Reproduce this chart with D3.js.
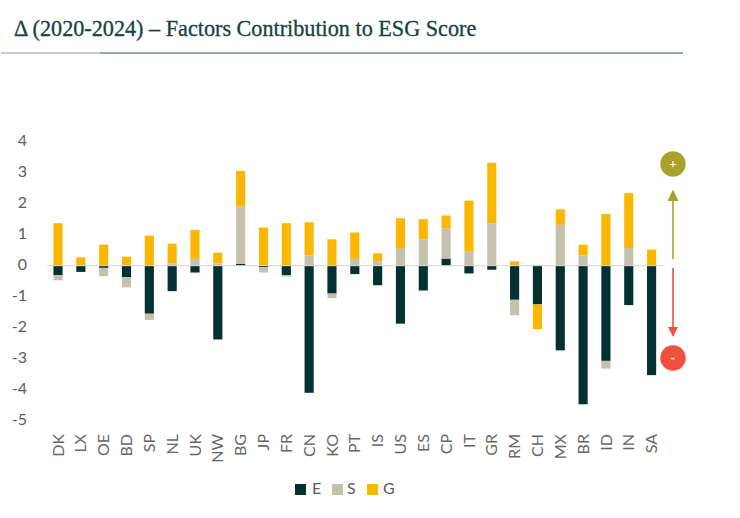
<!DOCTYPE html>
<html><head><meta charset="utf-8">
<script src="https://cdn.jsdelivr.net/npm/d3@7"></script>
<style>html,body{margin:0;padding:0;background:#fff}svg{display:block}</style></head>
<body><svg id="c" width="740" height="518"></svg>
<script>
const categories=["DK","LX","OE","BD","SP","NL","UK","NW","BG","JP","FR","CN","KO","PT","IS","US","ES","CP","IT","GR","RM","CH","MX","BR","ID","IN","SA"];
const seriesE=[-0.3,-0.2,-0.07,-0.37,-1.55,-0.82,-0.22,-2.38,0.06,-0.05,-0.3,-4.1,-0.9,-0.27,-0.63,-1.87,-0.8,0.23,-0.25,-0.13,-1.1,-1.25,-2.73,-4.47,-3.07,-1.27,-3.53];
const seriesS=[-0.17,0.02,-0.27,-0.33,-0.2,0.08,0.22,0.07,1.85,-0.17,-0.05,0.33,-0.15,0.22,0.15,0.55,0.85,0.97,0.45,1.37,-0.5,0,1.32,0.33,-0.25,0.57,0];
const seriesG=[1.37,0.25,0.68,0.29,0.97,0.63,0.93,0.35,1.15,1.23,1.37,1.07,0.85,0.85,0.25,0.98,0.65,0.42,1.65,1.95,0.14,-0.8,0.5,0.35,1.67,1.77,0.52];
const yTicks=[4,3,2,1,0,-1,-2,-3,-4,-5];
const keys=["E","S","G"];
const colors={E:"#03312f",S:"#c6c0ae",G:"#fbb600"};
const rows=categories.map((c,i)=>({c,E:seriesE[i],S:seriesS[i],G:seriesG[i]}));
const svg=d3.select("#c");
const sans="Lato, 'Open Sans', sans-serif";
svg.append("text").attr("x",14).attr("y",36).attr("font-family","'Liberation Serif', serif").attr("font-size",22.2).attr("fill","#17423f").attr("stroke","#17423f").attr("stroke-width",0.3).text("Δ (2020-2024) – Factors Contribution to ESG Score");
svg.append("line").attr("x1",1).attr("x2",100).attr("y1",53).attr("y2",53).attr("stroke","#8b9a97").attr("stroke-width",1.2);
svg.append("line").attr("x1",100).attr("x2",683).attr("y1",53).attr("y2",53).attr("stroke","#2c5552").attr("stroke-width",1.2);
const y=d3.scaleLinear().domain([4,-5]).range([141.7,420.7]);
const x=d3.scaleBand().domain(categories).range([46.6,663]).paddingInner(0.6).paddingOuter(0.3);
const stack=d3.stack().keys(keys).offset(d3.stackOffsetDiverging)(rows);
svg.append("g").selectAll("g").data(stack).join("g").attr("fill",d=>colors[d.key])
 .selectAll("rect").data(d=>d).join("rect")
 .attr("x",d=>x(d.data.c)).attr("width",x.bandwidth())
 .attr("y",d=>y(Math.max(d[0],d[1]))).attr("height",d=>Math.abs(y(d[0])-y(d[1])));
svg.append("line").attr("x1",47).attr("x2",663).attr("y1",y(0)).attr("y2",y(0)).attr("stroke","#d4d4d0").attr("stroke-width",1);
const ya=d3.axisLeft(y).tickValues(yTicks).tickSize(0).tickFormat(d3.format("d"));
const gy=svg.append("g").attr("transform","translate(28,-1.7)").call(ya);
gy.select(".domain").remove();
gy.selectAll("text").attr("font-family",sans).attr("font-size",16).attr("fill","#5c5c5c").attr("text-anchor","end").attr("dx",2).text(d=>String(d));
const xa=d3.axisBottom(x).tickSize(0);
const gx=svg.append("g").attr("transform","translate(0,433)").call(xa);
gx.select(".domain").remove();
gx.selectAll("text").attr("font-family",sans).attr("font-size",16).attr("fill","#666")
 .attr("text-anchor","end").attr("transform","rotate(-90)").attr("x",-1).attr("y",0).attr("dy","0.35em").attr("dx",0);
// legend
const lg=[{k:"E",x:295,t:312},{k:"S",x:332,t:347},{k:"G",x:367,t:383}];
const L=svg.append("g");
lg.forEach(l=>{
 L.append("rect").attr("x",l.x).attr("y",484).attr("width",11).attr("height",11).attr("fill",colors[l.k]);
 L.append("text").attr("x",l.t).attr("y",494).attr("font-family",sans).attr("font-size",16).attr("fill","#5c5c5c").text(l.k);
});
// arrows
const olive="#a8a22a",red="#f0503f";
svg.append("line").attr("x1",673).attr("x2",673).attr("y1",259).attr("y2",196).attr("stroke",olive).attr("stroke-width",1.6);
svg.append("path").attr("d","M673 189.500L678.500 201L667.500 201Z").attr("fill",olive);
svg.append("line").attr("x1",673).attr("x2",673).attr("y1",268).attr("y2",330).attr("stroke",red).attr("stroke-width",1.6);
svg.append("path").attr("d","M673 337L678 327L668 327Z").attr("fill",red);
svg.append("circle").attr("cx",673).attr("cy",164).attr("r",12.700).attr("fill",olive);
svg.append("circle").attr("cx",673).attr("cy",358).attr("r",12.700).attr("fill",red);
svg.append("text").attr("x",673).attr("y",168).attr("text-anchor","middle").attr("font-family",sans).attr("font-weight",700).attr("font-size",12).attr("fill","#fff").text("+");
svg.append("text").attr("x",673).attr("y",362).attr("text-anchor","middle").attr("font-family",sans).attr("font-weight",700).attr("font-size",12).attr("fill","#fff").text("-");
</script></body></html>
